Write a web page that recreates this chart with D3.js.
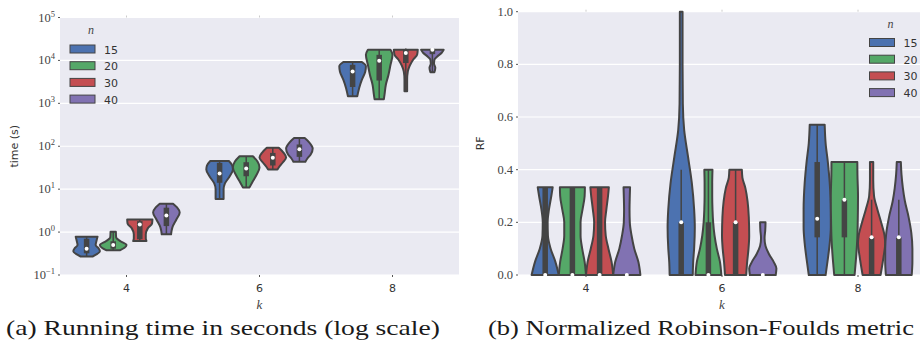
<!DOCTYPE html>
<html>
<head>
<meta charset="utf-8">
<script src="https://cdn.jsdelivr.net/npm/d3@7"></script>
<style>
  html, body { margin: 0; padding: 0; background: #fff; }
  svg { display: block; }
</style>
</head>
<body>
<div id="container"></div>
<script>
const kCats = ['4', '6', '8'];
const nCats = ['15', '20', '30', '40'];
const palette = ['#4c72b0', '#55a868', '#c44e52', '#8172b2'];

const timeTicks = [1e-1, 1e0, 1e1, 1e2, 1e3, 1e4, 1e5];
const rfTicks = [0, 0.2, 0.4, 0.6, 0.8, 1.0];

// violin outlines, top to bottom: [value, half width relative to the widest]
// order: k=4 (n=15,20,30,40), k=6 (...), k=8 (...)
const timeOutlines = [
    [[0.78, 0.82], [0.62, 0.74], [0.5, 0.68], [0.42, 0.9], [0.36, 1.0], [0.31, 0.8], [0.27, 0.45]],
    [[1.02, 0.2], [0.75, 0.22], [0.61, 0.55], [0.5, 1.0], [0.43, 0.85], [0.375, 0.5]],
    [[1.97, 0.95], [1.59, 0.92], [1.22, 0.6], [0.885, 0.45], [0.71, 0.45], [0.62, 0.5]],
    [[4.6, 0.5], [3.75, 0.8], [2.87, 1.0], [1.97, 0.75], [1.29, 0.45], [0.885, 0.35]],
    [[45.3, 0.7], [35.6, 0.95], [28.7, 1.0], [19.7, 0.75], [13.6, 0.4], [9.84, 0.3], [5.9, 0.3]],
    [[58.5, 0.5], [44, 0.85], [32, 1.0], [20.8, 0.75], [14.3, 0.45], [11, 0.25]],
    [[92, 0.45], [71.3, 0.8], [54.6, 1.0], [41.8, 0.75], [33.7, 0.5], [28.7, 0.35]],
    [[155, 0.4], [122, 0.75], [88.5, 1.0], [64, 0.85], [51.8, 0.6], [43.4, 0.45]],
    [[9180, 0.7], [7330, 1.0], [5460, 0.95], [3560, 0.7], [2320, 0.5], [1455, 0.35]],
    [[17700, 0.85], [13600, 1.0], [7940, 0.85], [4650, 0.7], [2720, 0.5], [1590, 0.4], [1250, 0.35]],
    [[17700, 0.9], [13600, 0.85], [10380, 0.55], [7530, 0.3], [5460, 0.15], [3560, 0.1], [1900, 0.1]],
    [[17700, 0.85], [15100, 0.7], [12200, 0.35], [10380, 0.15], [8380, 0.12], [6760, 0.22], [5320, 0.15]],
];
// inner box: [whisker low, q1, median, q3, whisker high]
const timeBoxes = [
    [0.27, 0.32, 0.41, 0.70, 0.78],
    [0.375, 0.41, 0.50, 0.61, 1.02],
    [0.62, 0.68, 1.51, 1.8, 1.97],
    [0.885, 1.38, 2.44, 3.7, 4.6],
    [5.9, 14.1, 23.2, 41, 45.3],
    [11, 20, 30.3, 42.5, 58.5],
    [28.7, 35.6, 53.7, 70, 92],
    [43.4, 56.6, 85, 110, 155],
    [1455, 2400, 5500, 7900, 9180],
    [1250, 3400, 9840, 13500, 17700],
    [1900, 8700, 14860, 18000, 19000],
    [5320, 14000, 17800, 18500, 19000],
];

const rfOutlines = [
    [[0.333, 0.55], [0.3, 0.45], [0.25, 0.28], [0.2, 0.18], [0.15, 0.2], [0.1, 0.4], [0.05, 0.75], [0, 1.0]],
    [[0.333, 0.92], [0.3, 0.9], [0.25, 0.75], [0.2, 0.6], [0.15, 0.6], [0.1, 0.72], [0.05, 0.9], [0, 1.0]],
    [[0.333, 0.68], [0.3, 0.62], [0.25, 0.5], [0.2, 0.4], [0.15, 0.45], [0.1, 0.65], [0.05, 0.88], [0, 1.0]],
    [[0.333, 0.24], [0.3, 0.22], [0.25, 0.2], [0.2, 0.22], [0.15, 0.35], [0.1, 0.55], [0.05, 0.85], [0, 1.0]],
    [[1.0, 0.1], [0.8, 0.1], [0.65, 0.12], [0.55, 0.22], [0.45, 0.5], [0.35, 0.78], [0.25, 0.95], [0.18, 1.0], [0.1, 0.95], [0.05, 0.88], [0, 0.85]],
    [[0.4, 0.3], [0.35, 0.28], [0.3, 0.28], [0.25, 0.3], [0.2, 0.35], [0.15, 0.45], [0.1, 0.62], [0.05, 0.85], [0, 0.95]],
    [[0.4, 0.46], [0.37, 0.5], [0.33, 0.72], [0.28, 0.88], [0.22, 0.97], [0.15, 1.0], [0.1, 0.95], [0.05, 0.85], [0, 0.78]],
    [[0.2, 0.2], [0.17, 0.18], [0.14, 0.13], [0.11, 0.2], [0.08, 0.45], [0.05, 0.8], [0.025, 1.0], [0, 0.95]],
    [[0.571, 0.55], [0.5, 0.62], [0.43, 0.78], [0.35, 0.92], [0.25, 1.0], [0.18, 1.0], [0.12, 0.92], [0.06, 0.78], [0, 0.62]],
    [[0.429, 0.95], [0.38, 0.96], [0.3, 1.0], [0.2, 0.98], [0.14, 0.95], [0.08, 0.88], [0.03, 0.8], [0, 0.75]],
    [[0.429, 0.12], [0.36, 0.12], [0.3, 0.18], [0.25, 0.42], [0.2, 0.7], [0.15, 0.95], [0.12, 1.0], [0.07, 0.88], [0, 0.66]],
    [[0.429, 0.15], [0.38, 0.2], [0.33, 0.3], [0.28, 0.45], [0.22, 0.72], [0.16, 0.92], [0.1, 1.0], [0.05, 1.0], [0, 0.95]],
];
const rfBoxes = [
    [0, 0, 0, 0.333, 0.333],
    [0, 0, 0, 0.333, 0.333],
    [0, 0, 0, 0.333, 0.333],
    [0, 0, 0, 0, 0],
    [0, 0, 0.2, 0.2, 0.4],
    [0, 0, 0, 0.2, 0.4],
    [0, 0, 0.2, 0.2, 0.4],
    [0, 0, 0, 0, 0],
    [0, 0.143, 0.214, 0.429, 0.571],
    [0, 0.143, 0.286, 0.286, 0.429],
    [0, 0, 0.143, 0.143, 0.286],
    [0, 0, 0.143, 0.143, 0.286],
];

const edge = '#444444';
const serif = 'Liberation Serif';
const sans = 'DejaVu Sans';

const svg = d3.select('#container')
    .append('svg')
        .attr('width', 920)
        .attr('height', 348);

function panel(opts) {
    const { left, right, top, bottom, y, ticks, tickLabel, outlines, boxes, yTitle, yTitleX, legend } = opts;
    const g = svg.append('g');

    const xOuter = d3.scaleBand().domain(kCats).range([left, right]).paddingInner(0.2).paddingOuter(0.1);
    const xInner = d3.scaleBand().domain(nCats).range([0, xOuter.bandwidth()]);
    const xTick = k => xOuter(k) + xOuter.bandwidth() / 2;

    // background + grid
    g.append('rect')
        .attr('x', left).attr('y', top)
        .attr('width', right - left).attr('height', bottom - top)
        .attr('fill', '#eaeaf2');
    g.append('g').selectAll('line')
        .data(ticks)
        .enter()
        .append('line')
            .attr('x1', left).attr('x2', right)
            .attr('y1', d => y(d)).attr('y2', d => y(d))
            .attr('stroke', '#fff').attr('stroke-width', 1.2);

    // small tick marks
    g.append('g').selectAll('line')
        .data(ticks)
        .enter()
        .append('line')
            .attr('x1', left - 2).attr('x2', left)
            .attr('y1', d => y(d)).attr('y2', d => y(d))
            .attr('stroke', '#555').attr('stroke-width', 1);
    [top, bottom].forEach(yy => {
        g.append('g').selectAll('line')
            .data(kCats)
            .enter()
            .append('line')
                .attr('x1', xTick).attr('x2', xTick)
                .attr('y1', yy === top ? top - 2 : bottom)
                .attr('y2', yy === top ? top : bottom + 2)
                .attr('stroke', yy === top ? '#ccc' : '#555').attr('stroke-width', 1);
    });

    // y tick labels
    g.append('g').selectAll('text')
        .data(ticks)
        .enter()
        .append('text')
            .attr('x', left - 5)
            .attr('y', d => y(d) + 4)
            .attr('text-anchor', 'end')
            .attr('font-family', serif)
            .attr('font-size', 12.5)
            .attr('fill', '#444')
            .each(function(d) { tickLabel(d3.select(this), d); });

    // x tick labels
    g.append('g').selectAll('text')
        .data(kCats)
        .enter()
        .append('text')
            .attr('x', xTick)
            .attr('y', 292)
            .attr('text-anchor', 'middle')
            .attr('font-family', sans)
            .attr('font-size', 11)
            .attr('fill', '#333')
            .text(d => d);

    // axis titles
    g.append('text')
        .attr('x', xTick('6'))
        .attr('y', 309)
        .attr('text-anchor', 'middle')
        .attr('font-family', serif)
        .attr('font-style', 'italic')
        .attr('font-size', 13)
        .attr('fill', '#444')
        .text('k');
    g.append('text')
        .attr('transform', `translate(${yTitleX},${(top + bottom) / 2}) rotate(-90)`)
        .attr('text-anchor', 'middle')
        .attr('font-family', sans)
        .attr('font-size', 11)
        .attr('fill', '#333')
        .text(yTitle);

    // violins
    const cells = [];
    kCats.forEach((k, i) => nCats.forEach((n, j) => cells.push({ k, n, j, outline: outlines[i * 4 + j], box: boxes[i * 4 + j] })));

    const half = xInner.bandwidth() / 2;
    g.append('g').selectAll('g')
        .data(cells)
        .enter()
        .append('g')
        .each(function(c) {
            const cx = xOuter(c.k) + xInner(c.n) + half;
            const sel = d3.select(this);
            const area = d3.area()
                .y(d => y(d[0]))
                .x0(d => cx - d[1] * half)
                .x1(d => cx + d[1] * half)
                .curve(d3.curveMonotoneY);
            sel.append('path')
                .attr('d', area(c.outline.slice().reverse()))
                .attr('fill', palette[c.j])
                .attr('stroke', edge)
                .attr('stroke-width', 2)
                .attr('stroke-linejoin', 'round');
            const [lo, q1, med, q3, hi] = c.box;
            if (hi > lo) {
                sel.append('line')
                    .attr('x1', cx).attr('x2', cx)
                    .attr('y1', y(lo)).attr('y2', y(hi))
                    .attr('stroke', edge).attr('stroke-width', 1.5);
            }
            if (q3 > q1) {
                sel.append('line')
                    .attr('x1', cx).attr('x2', cx)
                    .attr('y1', y(q1)).attr('y2', y(q3))
                    .attr('stroke', edge).attr('stroke-width', 5.5);
            }
            sel.append('circle')
                .attr('cx', cx).attr('cy', y(med))
                .attr('r', 2)
                .attr('fill', '#fff');
        });

    // legend
    const lg = g.append('g');
    lg.append('text')
        .attr('x', legend.x + 21)
        .attr('y', legend.y - 11)
        .attr('text-anchor', 'middle')
        .attr('font-family', serif)
        .attr('font-style', 'italic')
        .attr('font-size', 12)
        .attr('fill', '#444')
        .text('n');
    lg.selectAll('g')
        .data(nCats)
        .enter()
        .append('g')
        .attr('transform', (d, i) => `translate(${legend.x}, ${legend.y + i * 16.7})`)
        .each(function(d, i) {
            d3.select(this).append('rect')
                .attr('width', 25).attr('height', 8)
                .attr('fill', palette[i])
                .attr('stroke', edge).attr('stroke-width', 1);
            d3.select(this).append('text')
                .attr('x', 34).attr('y', 8.5)
                .attr('font-family', sans)
                .attr('font-size', 11)
                .attr('fill', '#333')
                .text(d);
        });
}

panel({
    left: 60, right: 459, top: 17.5, bottom: 275,
    y: d3.scaleLog().domain([1e-1, 1e5]).range([275, 17.5]),
    ticks: timeTicks,
    tickLabel: (t, d) => {
        const e = Math.round(Math.log10(d));
        t.append('tspan').text('10');
        t.append('tspan').attr('dy', -5).attr('font-size', 8.5).text(String(e).replace('-', '\u2212'));
    },
    outlines: timeOutlines,
    boxes: timeBoxes,
    yTitle: 'time (s)', yTitleX: 18,
    legend: { x: 70, y: 45 },
});

panel({
    left: 518, right: 926, top: 11.7, bottom: 275,
    y: d3.scaleLinear().domain([0, 1]).range([275, 11.7]),
    ticks: rfTicks,
    tickLabel: (t, d) => t.text(d.toFixed(1)),
    outlines: rfOutlines,
    boxes: rfBoxes,
    yTitle: 'RF', yTitleX: 484,
    legend: { x: 869.5, y: 38.5 },
});

// sub-captions
const captions = ['(a) Running time in seconds (log scale)', '(b) Normalized Robinson-Foulds metric'];
svg.append('g').selectAll('text')
    .data(captions)
    .enter()
    .append('text')
        .attr('x', (d, i) => i === 0 ? 6 : 488)
        .attr('y', 335)
        .attr('font-family', serif)
        .attr('font-size', 22)
        .attr('fill', '#1a1a1a')
        .attr('textLength', (d, i) => i === 0 ? 434 : 426)
        .attr('lengthAdjust', 'spacingAndGlyphs')
        .text(d => d);
</script>
</body>
</html>
